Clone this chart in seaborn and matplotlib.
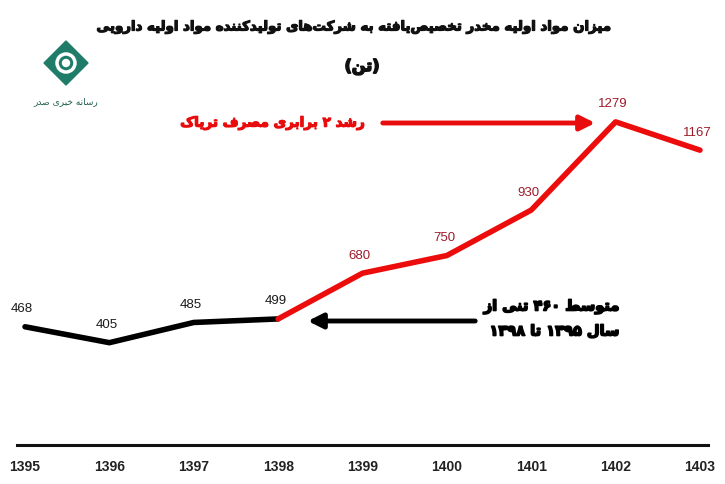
import re
import matplotlib
matplotlib.use("Agg")
import matplotlib.pyplot as plt
import matplotlib.patheffects as pe
from matplotlib.patches import RegularPolygon, Circle, FancyArrowPatch
import pandas as pd
import seaborn as sns

# داده‌ها
years = [1395, 1396, 1397, 1398, 1399, 1400, 1401, 1402, 1403]
values = [468, 405, 485, 499, 680, 750, 930, 1279, 1167]
black_years = [1395, 1396, 1397, 1398]
red_years = [1398, 1399, 1400, 1401, 1402, 1403]

title_text = "میزان مواد اولیه مخدر تخصیص\u200cیافته به شرکت\u200cهای تولیدکننده مواد اولیه دارویی"
unit_text = "(تن)"
red_note = "رشد ۲ برابری مصرف تریاک"
black_note = ["متوسط ۴۶۰ تنی از", "سال ۱۳۹۵ تا ۱۳۹۸"]
logo_text = "رسانه خبری صدر"

# شکل‌دهی ساده حروف فارسی (matplotlib خودش این کار را نمی‌کند)
FORMS = {
    "ا": (0xFE8D, 0xFE8E), "آ": (0xFE81, 0xFE82), "د": (0xFEA9, 0xFEAA),
    "ذ": (0xFEAB, 0xFEAC), "ر": (0xFEAD, 0xFEAE), "ز": (0xFEAF, 0xFEB0),
    "ژ": (0xFB8A, 0xFB8B), "و": (0xFEED, 0xFEEE),
    "ب": (0xFE8F, 0xFE90, 0xFE91, 0xFE92), "پ": (0xFB56, 0xFB57, 0xFB58, 0xFB59),
    "ت": (0xFE95, 0xFE96, 0xFE97, 0xFE98), "ث": (0xFE99, 0xFE9A, 0xFE9B, 0xFE9C),
    "ج": (0xFE9D, 0xFE9E, 0xFE9F, 0xFEA0), "چ": (0xFB7A, 0xFB7B, 0xFB7C, 0xFB7D),
    "ح": (0xFEA1, 0xFEA2, 0xFEA3, 0xFEA4), "خ": (0xFEA5, 0xFEA6, 0xFEA7, 0xFEA8),
    "س": (0xFEB1, 0xFEB2, 0xFEB3, 0xFEB4), "ش": (0xFEB5, 0xFEB6, 0xFEB7, 0xFEB8),
    "ص": (0xFEB9, 0xFEBA, 0xFEBB, 0xFEBC), "ض": (0xFEBD, 0xFEBE, 0xFEBF, 0xFEC0),
    "ط": (0xFEC1, 0xFEC2, 0xFEC3, 0xFEC4), "ظ": (0xFEC5, 0xFEC6, 0xFEC7, 0xFEC8),
    "ع": (0xFEC9, 0xFECA, 0xFECB, 0xFECC), "غ": (0xFECD, 0xFECE, 0xFECF, 0xFED0),
    "ف": (0xFED1, 0xFED2, 0xFED3, 0xFED4), "ق": (0xFED5, 0xFED6, 0xFED7, 0xFED8),
    "ک": (0xFB8E, 0xFB8F, 0xFB90, 0xFB91), "گ": (0xFB92, 0xFB93, 0xFB94, 0xFB95),
    "ل": (0xFEDD, 0xFEDE, 0xFEDF, 0xFEE0), "م": (0xFEE1, 0xFEE2, 0xFEE3, 0xFEE4),
    "ن": (0xFEE5, 0xFEE6, 0xFEE7, 0xFEE8), "ه": (0xFEE9, 0xFEEA, 0xFEEB, 0xFEEC),
    "ی": (0xFBFC, 0xFBFD, 0xFBFE, 0xFBFF), "ي": (0xFEF1, 0xFEF2, 0xFEF3, 0xFEF4),
}


def shape(text):
    out = []
    for i, c in enumerate(text):
        if c not in FORMS:
            if c != "\u200c":
                out.append(c)
            continue
        prev = text[i - 1] if i > 0 else ""
        nxt = text[i + 1] if i + 1 < len(text) else ""
        jp = prev in FORMS and len(FORMS[prev]) == 4
        jn = len(FORMS[c]) == 4 and nxt in FORMS
        f = FORMS[c]
        if jp and jn:
            out.append(chr(f[3]))
        elif jp:
            out.append(chr(f[1]))
        elif jn:
            out.append(chr(f[2]))
        else:
            out.append(chr(f[0]))
    return "".join(out)


def fa(text):
    s = shape(text)[::-1]
    s = s.translate(str.maketrans("()", ")("))
    return re.sub(r"[0-9۰-۹]+", lambda m: m.group(0)[::-1], s)


def heavy(color, w=0.9):
    return [pe.withStroke(linewidth=w, foreground=color)]


df = pd.DataFrame({"year": years, "value": values})
df_black = df[df.year.isin(black_years)]
df_red = df[df.year.isin(red_years)]

sns.set_style("white")
plt.rcParams["font.family"] = ["DejaVu Sans"]

W, H = 725, 485
fig = plt.figure(figsize=(W / 100, H / 100), dpi=100)
ax = fig.add_axes([17 / W, 1 - 446 / H, (708 - 17) / W, 406 / H])

sns.lineplot(data=df_black, x="year", y="value", color="black", linewidth=4, ax=ax)
sns.lineplot(data=df_red, x="year", y="value", color="#ec0c0c", linewidth=4, ax=ax)

for yr, v in zip(years, values):
    col = "#1a1a1a" if yr < 1399 else "#9e1b2a"
    ax.annotate(str(v), (yr, v), xytext=(-2, 9), textcoords="offset points",
                ha="center", va="bottom", fontsize=9.5, color=col,
                family="Liberation Sans")

ax.set_xlim(1394.905, 1403.095)
ax.set_ylim(0, 1607)
ax.set_xticks(years)
ax.set_xticklabels([str(y) for y in years], fontsize=10, fontweight="bold",
                   family="Liberation Sans", color="#222222")
ax.tick_params(axis="x", length=0, pad=10)
ax.set_yticks([])
ax.set_xlabel("")
ax.set_ylabel("")
for side in ["top", "left", "right"]:
    ax.spines[side].set_visible(False)
ax.spines["bottom"].set_linewidth(2.2)
ax.spines["bottom"].set_color("#111111")


def fx(px):
    return px / W


def fy(py):
    return 1 - py / H


# عنوان
fig.text(fx(615), fy(28), fa(title_text), ha="right", va="center",
         fontsize=9.6, fontweight="bold", color="#111111",
         path_effects=heavy("#111111"))
fig.text(fx(362), fy(68), fa(unit_text), ha="center", va="center",
         fontsize=11.5, fontweight="bold", color="#111111",
         path_effects=heavy("#111111", 1.2))

# یادداشت قرمز
fig.text(fx(365), fy(124), fa(red_note), ha="right", va="center",
         fontsize=9.8, fontweight="bold", color="#e80c0c",
         path_effects=heavy("#e80c0c"))
fig.patches.append(FancyArrowPatch(
    (fx(380), fy(124)), (fx(598), fy(124)), transform=fig.transFigure,
    arrowstyle="-|>", mutation_scale=22, linewidth=3.5, color="#e80c0c"))

# یادداشت سیاه
fig.text(fx(620), fy(320), "\n".join(fa(t) for t in black_note), ha="right",
         va="center", fontsize=10.5, fontweight="bold", color="black",
         linespacing=1.75, path_effects=heavy("black", 1.2))
fig.patches.append(FancyArrowPatch(
    (fx(478), fy(322)), (fx(305), fy(322)), transform=fig.transFigure,
    arrowstyle="-|>", mutation_scale=22, linewidth=3.5, color="black"))

# لوگو
lax = fig.add_axes([35 / W, 1 - 120 / H, 85 / W, 85 / H])
lax.set_xlim(0, 85)
lax.set_ylim(85, 0)
lax.axis("off")
lax.add_patch(RegularPolygon((31, 29), 4, radius=22, orientation=0,
                             color="#1e7c68"))
lax.add_patch(Circle((31, 29), 9, fill=False, ec="white", lw=2.5))
lax.add_patch(Circle((31, 29), 3.5, color="white"))
lax.text(31, 67, fa(logo_text), ha="center", va="center", fontsize=6.5,
         color="#1e5f50")

fig.savefig("out.png", dpi=100)
